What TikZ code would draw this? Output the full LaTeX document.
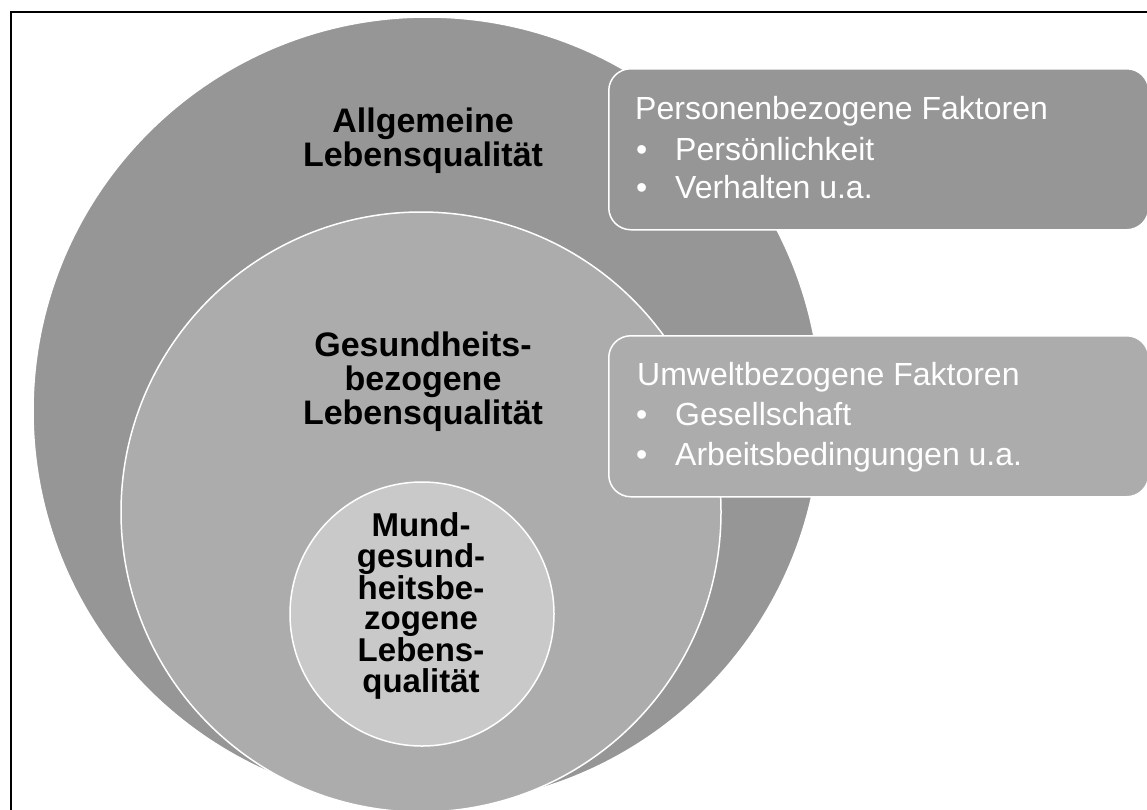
\documentclass[tikz,border=0pt]{standalone}
\usepackage{fontspec}
\setmainfont{Liberation Sans}
\definecolor{outerc}{RGB}{150,150,150}
\definecolor{midc}{RGB}{172,172,172}
\definecolor{innerc}{RGB}{201,201,201}
\begin{document}
\begin{tikzpicture}[x=1pt,y=-1pt,
  ring/.style={circle, draw=white, line width=1.5pt, inner sep=0pt},
  factorbox/.style={rectangle, rounded corners=22pt, draw=white, line width=1.5pt,
    anchor=north west, minimum width=540pt, minimum height=161pt, inner sep=0pt},
  circlabel/.style={font=\bfseries\fontsize{34}{34}\selectfont, align=center, text=black, inner sep=0pt},
  boxline/.style={font=\fontsize{32}{40}\selectfont, text=white, anchor=base west, inner sep=0pt}
]
\clip (0,0) rectangle (1147,809);
\fill[white] (0,0) rectangle (1147,809);
\draw[line width=2.5pt] (11,12) rectangle (1250,900);

% circles
\node[ring, fill=outerc, minimum size=788pt] (outer) at (427,411) {};
\node[ring, fill=midc, minimum size=600pt] (middle) at (421,512) {};
\node[ring, fill=innerc, minimum size=264pt] (inner) at (422,614) {};

% circle labels
\node[circlabel] (lblouter) at (423,141) {Allgemeine\\Lebensqualität};
\node[circlabel] (lblmiddle) at (423,382) {Gesundheits-\\bezogene\\Lebensqualität};
\node[circlabel, font=\bfseries\fontsize{33}{30.6}\selectfont] (lblinner) at (421,606) {Mund-\\gesund-\\heitsbe-\\zogene\\Lebens-\\qualität};

% factor boxes
\node[factorbox, fill=outerc] (personbox) at (608,68) {};
\node[factorbox, fill=midc] (umweltbox) at (608,335) {};

\node[boxline] (p0) at (635,119) {Personenbezogene Faktoren};
\node[boxline] (p1b) at (636,160) {•};
\node[boxline] (p1) at (675,160) {Persönlichkeit};
\node[boxline] (p2b) at (636,198) {•};
\node[boxline] (p2) at (675,198) {Verhalten u.a.};

\node[boxline] (u0) at (637,385) {Umweltbezogene Faktoren};
\node[boxline] (u1b) at (636,425) {•};
\node[boxline] (u1) at (675,425) {Gesellschaft};
\node[boxline] (u2b) at (636,465) {•};
\node[boxline] (u2) at (675,465) {Arbeitsbedingungen u.a.};
\end{tikzpicture}
\end{document}
